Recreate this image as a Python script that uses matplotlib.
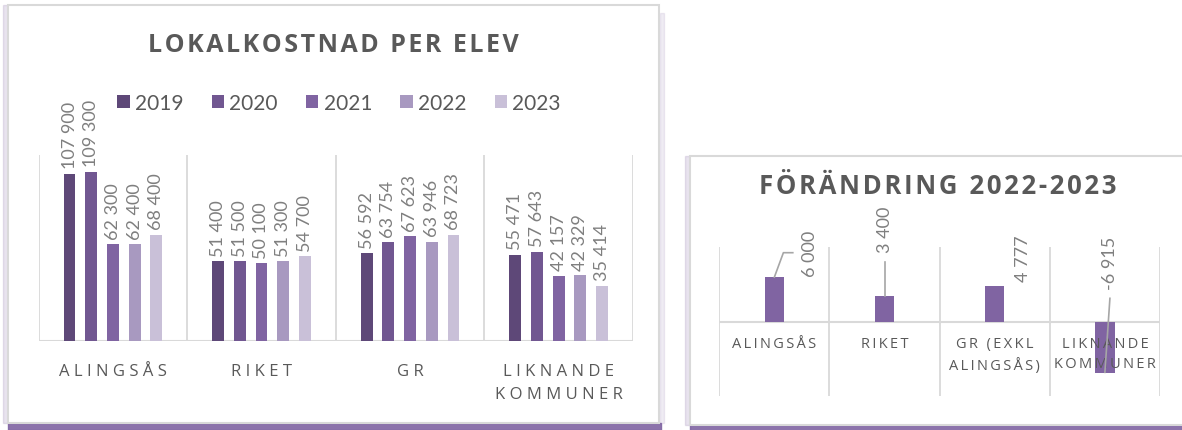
import matplotlib
matplotlib.use("Agg")
import matplotlib.pyplot as plt
from matplotlib.patches import Rectangle

# cost per pupil by region and year
regions = ["ALINGSÅS", "RIKET", "GR", "LIKNANDE\nKOMMUNER"]
years = ["2019", "2020", "2021", "2022", "2023"]
cost_2019 = [107900, 51400, 56592, 55471]
cost_2020 = [109300, 51500, 63754, 57643]
cost_2021 = [62300, 50100, 67623, 42157]
cost_2022 = [62400, 51300, 63946, 42329]
cost_2023 = [68400, 54700, 68723, 35414]
year_colors = ["#5e4878", "#715791", "#8064a2", "#a899c0", "#c9c0d8"]

# change 2022 -> 2023
change_regions = ["ALINGSÅS", "RIKET", "GR (EXKL\nALINGSÅS)", "LIKNANDE\nKOMMUNER"]
change = [6000, 3400, 4777, -6915]

W, H = 1182, 431
TITLE_C = "#595959"
LABEL_C = "#7f7f7f"
GRID_C = "#d9d9d9"
SHADOW_C = "#8064a2"


def spaced(s, gap="\u2009"):
    # widen letter spacing the way the office chart titles do
    return "\n".join(gap.join(ch for ch in line) for line in s.split("\n"))


def fmt(v):
    return f"{v:,}".replace(",", " ")


def px_axes(fig, x0, x1, ytop, ybot):
    return fig.add_axes([x0 / W, (H - ybot) / H, (x1 - x0) / W, (ybot - ytop) / H])


def card(fig, x0, y0, x1, y1):
    # shadow then white card with grey border
    fig.patches.append(Rectangle((x0 / W, (H - y1 - 7) / H), (x1 - x0 + 2) / W, 7 / H,
                                 transform=fig.transFigure, color=SHADOW_C, alpha=0.9, zorder=0))
    fig.patches.append(Rectangle(((x0 - 5) / W, (H - y1) / H), 5 / W, (y1 - y0) / H,
                                 transform=fig.transFigure, color=SHADOW_C, alpha=0.18, zorder=0))
    fig.patches.append(Rectangle(((x1 + 1) / W, (H - y1) / H), 4 / W, (y1 - y0 - 8) / H,
                                 transform=fig.transFigure, color=SHADOW_C, alpha=0.12, zorder=0))
    fig.patches.append(Rectangle((x0 / W, (H - y1) / H), (x1 - x0) / W, (y1 - y0) / H,
                                 transform=fig.transFigure, facecolor="white",
                                 edgecolor=GRID_C, linewidth=1.5, zorder=1))


fig = plt.figure(figsize=(W / 100, H / 100), dpi=100)
fig.patch.set_facecolor("white")

card(fig, 8, 6, 659, 424)
card(fig, 690, 157, 1190, 426)

# ---- left chart: cost per pupil ----
ax = px_axes(fig, 38.6, 633, 156.3, 341.7)
ax.set_zorder(2)
ax.patch.set_visible(False)
series = [cost_2019, cost_2020, cost_2021, cost_2022, cost_2023]
pitch, bw = 0.146, 0.08
handles = []
for k, (vals, col, yr) in enumerate(zip(series, year_colors, years)):
    xs = [i + (k - 2) * pitch for i in range(len(regions))]
    bars = ax.bar(xs, vals, width=bw, color=col, label=yr, zorder=3)
    ax.bar_label(bars, labels=[fmt(v) for v in vals], rotation=90, padding=4,
                 color=LABEL_C, fontsize=13, family=["Lato", "DejaVu Sans"], clip_on=False)
    handles.append(bars)
ax.set_xlim(-0.5, len(regions) - 0.5)
ax.set_ylim(0, 120000)
for b in range(len(regions) + 1):
    ax.axvline(b - 0.5, color=GRID_C, linewidth=1.3, zorder=1)
ax.axhline(0, color=GRID_C, linewidth=1.5, zorder=2)
for s in ax.spines.values():
    s.set_visible(False)
ax.set_yticks([])
ax.set_xticks(range(len(regions)))
ax.set_xticklabels([spaced(r, "\u2009\u200a") for r in regions], color=TITLE_C, fontsize=12,
                   family=["Open Sans", "DejaVu Sans"], linespacing=1.6)
ax.tick_params(axis="x", length=0, pad=16)
leg = ax.legend(handles=handles, loc="center", bbox_to_anchor=(339 / W, (H - 104) / H),
                bbox_transform=fig.transFigure, ncol=5, frameon=False,
                handlelength=0.6, handleheight=0.6, handletextpad=0.25, columnspacing=1.35,
                prop={"family": ["Lato", "DejaVu Sans"], "size": 15})
for t in leg.get_texts():
    t.set_color(TITLE_C)
fig.text(333 / W, (H - 45) / H, spaced("LOKALKOSTNAD PER ELEV", "\u200a"), ha="center",
         va="center", fontsize=18, fontweight="bold", color=TITLE_C,
         family=["Open Sans", "DejaVu Sans"], zorder=3)

# ---- right chart: change 2022-2023 ----
ax2 = px_axes(fig, 719.3, 1160, 248.3, 397.3)
ax2.set_zorder(2)
ax2.patch.set_visible(False)
ax2.bar(range(len(change)), change, width=0.175, color="#8064a2", zorder=3)
ax2.set_xlim(-0.5, len(change) - 0.5)
ax2.set_ylim(-10000, 10000)
for b in range(len(change) + 1):
    ax2.axvline(b - 0.5, color=GRID_C, linewidth=1.3, zorder=1)
ax2.axhline(0, color=GRID_C, linewidth=1.5, zorder=2)
for s in ax2.spines.values():
    s.set_visible(False)
ax2.set_yticks([])
ax2.set_xticks([])
for i, r in enumerate(change_regions):
    ax2.annotate(spaced(r, "\u2009"), xy=(i, 0), xytext=(0, -10), textcoords="offset points",
                 ha="center", va="top", fontsize=10.5, color=TITLE_C,
                 family=["Open Sans", "DejaVu Sans"], linespacing=1.5, zorder=4)

# label offsets (px) from the bar end and leader lines
label_off = [(35.6, 24.2), (0.4, 67.5), (28.2, 28.2), (5.0, 110.8)]
leaders = [[(0, 0), (9, 24.4), (18.4, 24.4)], [(0, 0), (0, 34.3)], [], [(0, 1), (5, 75)]]
for i, v in enumerate(change):
    dx, dy = label_off[i]
    ax2.annotate(fmt(v), xy=(i, v), xytext=(dx * 0.72, dy * 0.72),
                 textcoords="offset points", rotation=90, ha="center", va="center",
                 fontsize=13, color=LABEL_C, family=["Lato", "DejaVu Sans"], zorder=5)
    if leaders[i]:
        base = ax2.transData.transform((i, v))
        pts = [ax2.transData.inverted().transform((base[0] + ox, base[1] + oy))
               for ox, oy in leaders[i]]
        ax2.plot([p[0] for p in pts], [p[1] for p in pts], color="#a6a6a6",
                 linewidth=1.2, zorder=5, clip_on=False)
fig.text(938 / W, (H - 187) / H, spaced("FÖRÄNDRING 2022-2023", "\u200a"), ha="center",
         va="center", fontsize=18.5, fontweight="bold", color=TITLE_C,
         family=["Open Sans", "DejaVu Sans"], zorder=3)

fig.savefig("out.png", dpi=100, facecolor="white")
